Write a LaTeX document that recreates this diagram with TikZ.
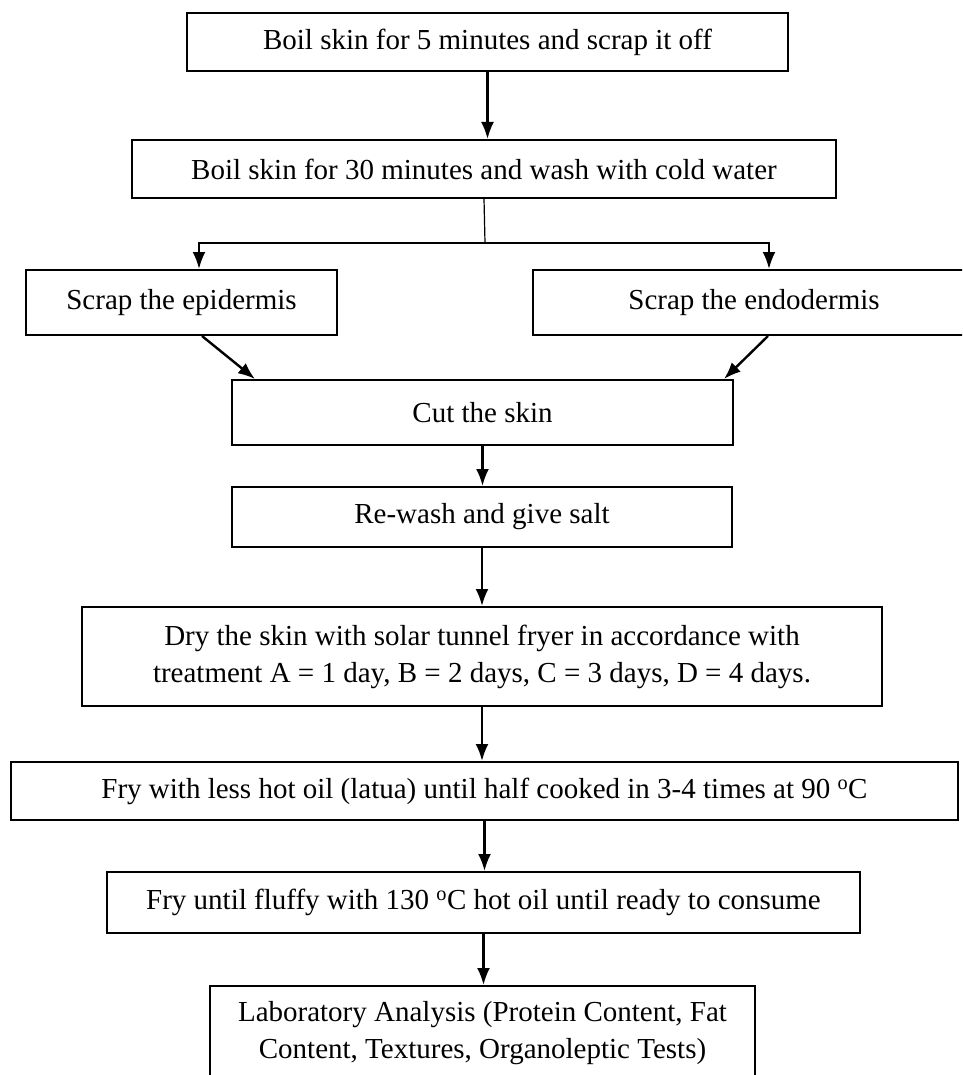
\documentclass[tikz,border=0pt]{standalone}
\usepackage{fontspec}
\setmainfont{Liberation Serif}
\usetikzlibrary{arrows.meta,calc}
\begin{document}
\begin{tikzpicture}[x=1pt,y=-1pt,
  box/.style={draw, line width=2pt, inner sep=0pt, align=center, font=\fontsize{29}{37}\selectfont},
  arr/.style={line width=2.4pt, -{Latex[length=17pt,width=13pt]}},
  thinln/.style={line width=1.2pt}]
\useasboundingbox (0,0) rectangle (962,1075);
\clip (0,0) rectangle (962,1075);
\node[box, minimum width=601pt, minimum height=58pt] (b1) at (487.5,42) {Boil skin for 5 minutes and scrap it off};
\node[box, minimum width=704pt, minimum height=58pt] (b2) at (484,169) {Boil skin for 30 minutes and wash with cold water};
\node[box, minimum width=311pt, minimum height=65pt] (L) at (181.5,302.5) {Scrap the epidermis};
\node[box, minimum width=442pt, minimum height=65pt] (R) at (754,302.5) {Scrap the endodermis};
\node[box, minimum width=501pt, minimum height=65pt] (C) at (482.5,412.5) {Cut the skin};
\node[box, minimum width=500pt, minimum height=60pt] (RW) at (482,517) {Re-wash and give salt};
\node[box, minimum width=800pt, minimum height=99pt] (D) at (482,656.5) {Dry the skin with solar tunnel fryer in accordance with\\treatment A = 1 day, B = 2 days, C = 3 days, D = 4 days.};
\node[box, minimum width=947pt, minimum height=58pt] (F1) at (484.5,791) {Fry with less hot oil (latua) until half cooked in 3-4 times at 90 \textsuperscript{o}C};
\node[box, minimum width=753pt, minimum height=61pt] (F2) at (483.5,902.5) {Fry until fluffy with 130 \textsuperscript{o}C hot oil until ready to consume};
\node[box, minimum width=545pt, minimum height=94pt] (Lab) at (482.5,1033) {Laboratory Analysis (Protein Content, Fat\\Content, Textures, Organoleptic Tests)};
\coordinate (sp) at (485,243);
\coordinate (la) at (199,243);
\coordinate (ra) at (769,243);
\draw[arr] (b1.south) -- (b1.south |- b2.north);
\draw[thinln] (b2.south) -- (sp);
\draw[arr] (sp) -- (la) -- (la |- L.north);
\draw[arr] (sp) -- (ra) -- (ra |- R.north);
\draw[arr] ([xshift=20.5pt]L.south) -- ([xshift=-227.5pt]C.north);
\draw[arr] ([xshift=14pt]R.south) -- ([xshift=241.5pt]C.north);
\draw[arr] (C.south) -- (C.south |- RW.north);
\draw[arr] (RW.south) -- (RW.south |- D.north);
\draw[arr] (D.south) -- (D.south |- F1.north);
\draw[arr] (F1.south) -- (F1.south |- F2.north);
\draw[arr] (F2.south) -- (F2.south |- Lab.north);
\end{tikzpicture}
\end{document}
